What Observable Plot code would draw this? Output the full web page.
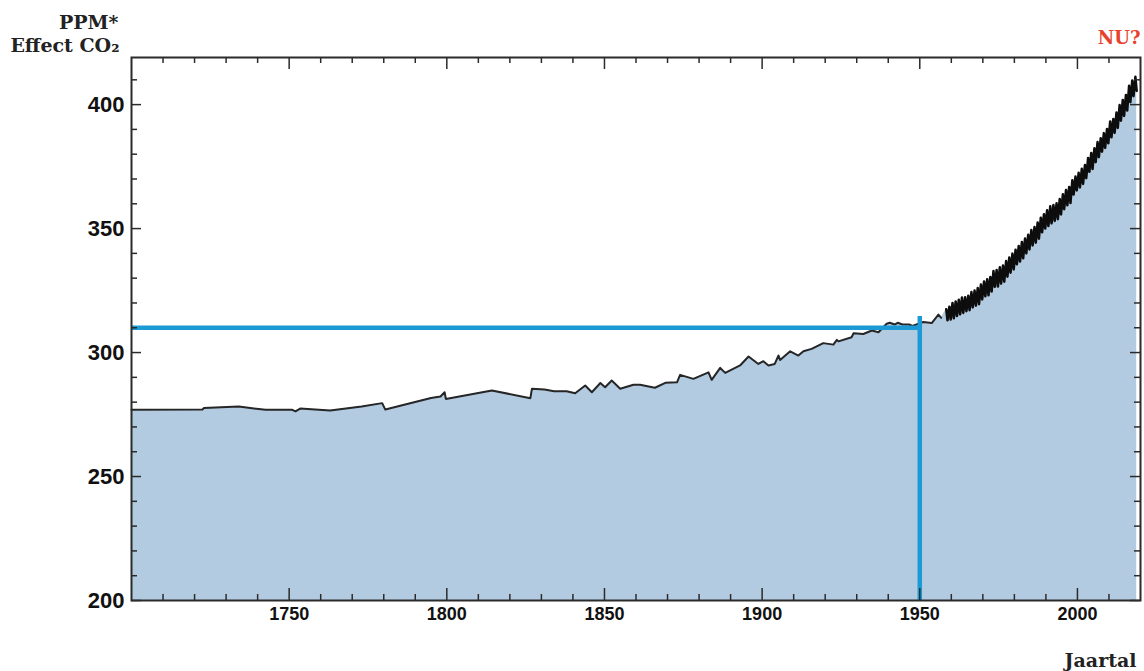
<!DOCTYPE html>
<html>
<head>
<meta charset="utf-8">
<script src="https://cdn.jsdelivr.net/npm/d3@7"></script>
<script src="https://cdn.jsdelivr.net/npm/@observablehq/plot@0.6"></script>
<style>
  html, body { margin: 0; padding: 0; background: #fff; }
</style>
</head>
<body>
<div id="chart"></div>
<script>
// Ice-core record
const iceYear = [1700, 1722.5, 1723, 1734, 1742.5, 1751, 1752, 1753.5, 1763, 1773, 1779.5, 1780.5, 1795, 1798, 1799.3, 1799.7, 1814.3, 1826.5, 1827, 1831, 1834, 1838, 1840.7, 1843.9, 1846, 1848.7, 1850.2, 1852.3, 1855, 1859.2, 1861.3, 1866, 1869.3, 1873, 1874, 1878.2, 1883, 1884, 1886.7, 1888.3, 1893, 1895.7, 1898.8, 1900.4, 1902, 1904, 1905.2, 1905.7, 1908.9, 1911.5, 1913.1, 1915.7, 1919.4, 1922.6, 1923.7, 1924.2, 1928.4, 1929, 1932.1, 1934.8, 1936.9, 1939.5, 1940.5, 1942, 1943, 1944.5, 1946.6, 1947.7, 1951.1, 1953.8, 1955.9, 1956.8];
const icePpm = [276.9, 277.0, 277.6, 278.2, 276.9, 276.9, 276.3, 277.4, 276.6, 278.2, 279.6, 277.0, 281.7, 282.3, 284.0, 281.3, 284.7, 281.6, 285.4, 285.1, 284.4, 284.4, 283.6, 286.7, 284.0, 287.7, 286.0, 288.7, 285.4, 287.0, 287.0, 285.8, 287.8, 288.0, 291.0, 289.4, 292.0, 289.0, 293.8, 291.8, 294.8, 298.4, 295.4, 296.5, 294.8, 295.4, 298.8, 297.0, 300.5, 298.8, 300.5, 301.5, 303.8, 303.2, 305.1, 304.5, 306.2, 307.8, 307.5, 308.9, 308.2, 311.6, 312.0, 311.3, 312.0, 311.3, 311.3, 310.7, 312.3, 311.9, 315.3, 314.0];

// Mauna Loa record: yearly seasonal peak (spring) and trough (autumn)
const mlYear = [1958, 1959, 1960, 1961, 1962, 1963, 1964, 1965, 1966, 1967, 1968, 1969, 1970, 1971, 1972, 1973, 1974, 1975, 1976, 1977, 1978, 1979, 1980, 1981, 1982, 1983, 1984, 1985, 1986, 1987, 1988, 1989, 1990, 1991, 1992, 1993, 1994, 1995, 1996, 1997, 1998, 1999, 2000, 2001, 2002, 2003, 2004, 2005, 2006, 2007, 2008, 2009, 2010, 2011, 2012, 2013, 2014, 2015, 2016, 2017, 2018];
const mlPeak = [317.5, 318.5, 320.0, 320.6, 321.3, 322.2, 322.3, 322.9, 324.4, 325.0, 326.0, 327.4, 328.7, 329.6, 330.5, 332.9, 333.3, 334.4, 335.1, 336.9, 338.3, 339.9, 341.5, 343.0, 344.6, 346.0, 347.5, 349.4, 350.6, 352.5, 354.4, 355.8, 357.4, 359.0, 359.5, 360.2, 361.9, 363.8, 365.6, 366.8, 369.5, 371.0, 372.5, 374.1, 375.6, 378.5, 380.5, 382.4, 384.9, 386.4, 388.5, 390.2, 393.2, 394.2, 396.8, 399.8, 401.9, 403.9, 407.6, 409.7, 411.2];
const mlTrough = [313.0, 313.3, 313.8, 314.7, 315.4, 316.0, 316.7, 317.1, 318.2, 318.9, 319.5, 321.4, 322.7, 323.1, 324.6, 326.5, 326.6, 327.8, 328.6, 330.6, 332.2, 333.5, 335.6, 336.7, 338.0, 340.0, 341.6, 343.2, 344.3, 345.9, 348.5, 350.0, 351.0, 352.1, 353.1, 353.8, 355.7, 357.8, 359.4, 360.3, 363.7, 365.4, 366.6, 368.0, 370.3, 372.9, 374.0, 376.8, 378.8, 381.0, 382.5, 384.4, 386.8, 388.6, 390.6, 393.5, 395.4, 397.6, 401.0, 403.4, 405.5];

// Reference lines
const refYear = 1950;
const refPpm = 310;
const refTop = 314.5;

// Axes
const xDomain = [1700, 2020];
const yDomain = [200, 419];
const xMajor = [1750, 1800, 1850, 1900, 1950, 2000];
const xMinor = d3.range(1710, 2020, 10).filter(d => d % 50 !== 0);
const yMajor = [200, 250, 300, 350, 400];
const yMinor = d3.range(210, 420, 10).filter(d => d % 50 !== 0);

// Tables
const ice = iceYear.map((x, i) => ({x, ppm: icePpm[i]}));
const ml = mlYear.flatMap((yr, i) => [
  {x: yr + 0.38, ppm: mlPeak[i]},
  {x: yr + 0.79, ppm: mlTrough[i]}
]);
const all = ice.concat(ml);

const W = 1144, H = 671;
const mL = 131, mR = 4, mT = 57, mB = 71;
const pw = W - mL - mR, ph = H - mT - mB;

const blue = "#1c9ad6";
const frameC = "#2b2b2b";
const serif = "'DejaVu Serif', serif";

const chart = Plot.plot({
  width: W, height: H,
  marginLeft: mL, marginRight: mR, marginTop: mT, marginBottom: mB,
  x: {domain: xDomain},
  y: {domain: yDomain},
  style: {fontFamily: "'Liberation Sans', Arial, sans-serif", background: "#fff", overflow: "visible"},
  marks: [
    Plot.areaY(all, {x: "x", y1: yDomain[0], y2: "ppm", fill: "#b3cbe1"}),
    Plot.line(ice, {x: "x", y: "ppm", stroke: "#262626", strokeWidth: 2}),
    Plot.line(ml, {x: "x", y: "ppm", stroke: "#0d0d0d", strokeWidth: 2.5}),
    Plot.ruleY([refPpm], {x1: xDomain[0], x2: refYear + 0.7, stroke: blue, strokeWidth: 4.5}),
    Plot.ruleX([refYear], {y1: yDomain[0], y2: refTop, stroke: blue, strokeWidth: 4.5}),
    // inward ticks: bottom
    Plot.tickX(xMajor, {x: d => d, insetTop: ph - 12, stroke: frameC, strokeWidth: 1.5}),
    Plot.tickX(xMinor, {x: d => d, insetTop: ph - 6, stroke: frameC, strokeWidth: 1.5}),
    // top
    Plot.tickX(xMajor, {x: d => d, insetBottom: ph - 12, stroke: frameC, strokeWidth: 1.5}),
    Plot.tickX(xMinor, {x: d => d, insetBottom: ph - 6, stroke: frameC, strokeWidth: 1.5}),
    // left
    Plot.tickY(yMajor, {y: d => d, insetRight: pw - 10, stroke: frameC, strokeWidth: 1.5}),
    Plot.tickY(yMinor, {y: d => d, insetRight: pw - 6, stroke: frameC, strokeWidth: 1.5}),
    // right
    Plot.tickY(yMajor, {y: d => d, insetLeft: pw - 10, stroke: frameC, strokeWidth: 1.5}),
    Plot.tickY(yMinor, {y: d => d, insetLeft: pw - 6, stroke: frameC, strokeWidth: 1.5}),
    Plot.frame({stroke: frameC, strokeWidth: 2}),
    Plot.axisX({ticks: xMajor, tickSize: 0, tickPadding: 7, tickFormat: d => String(d), fontSize: 18, fontWeight: "bold", fill: "#111", label: null}),
    Plot.axisY({ticks: yMajor, tickSize: 0, tickPadding: 7, tickFormat: d => String(d), fontSize: 22, fontWeight: "bold", fill: "#111", label: null}),
    Plot.text(["PPM*"], {frameAnchor: "top-left", dx: -13, dy: -29, textAnchor: "end", lineAnchor: "bottom", fontFamily: serif, fontWeight: "bold", fontSize: 19, fill: "#222"}),
    Plot.text(["Effect CO₂"], {frameAnchor: "top-left", dx: -12, dy: -6, textAnchor: "end", lineAnchor: "bottom", fontFamily: serif, fontWeight: "bold", fontSize: 19, fill: "#222"}),
    Plot.text(["NU?"], {frameAnchor: "top-right", dx: 0, dy: -14, textAnchor: "end", lineAnchor: "bottom", fontFamily: serif, fontWeight: "bold", fontSize: 18, fill: "#e8412c"}),
    Plot.text(["Jaartal"], {frameAnchor: "bottom-right", dx: -4, dy: 66, textAnchor: "end", lineAnchor: "bottom", fontFamily: serif, fontWeight: "bold", fontSize: 19, fill: "#222"})
  ]
});
document.getElementById("chart").appendChild(chart);
</script>
</body>
</html>
